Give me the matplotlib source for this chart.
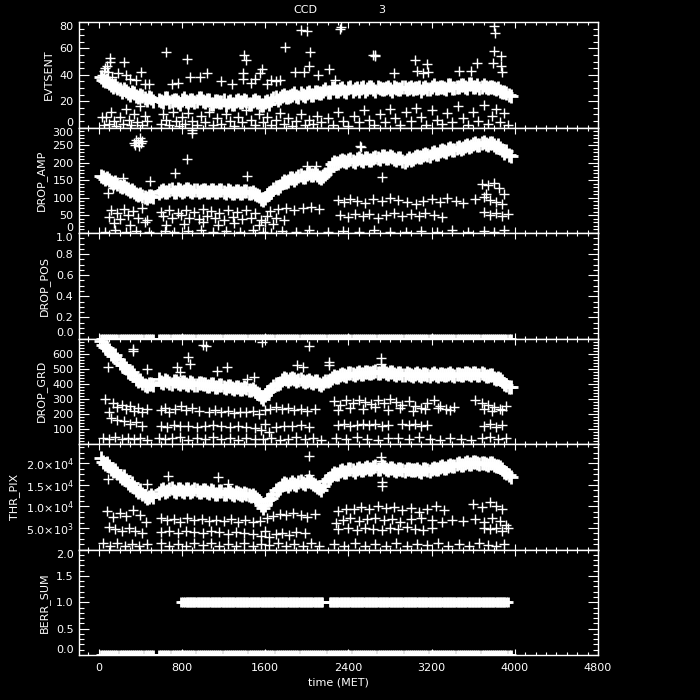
import numpy as np
import matplotlib
matplotlib.use('Agg')
import matplotlib.pyplot as plt
from matplotlib.ticker import MultipleLocator

# main read-out stream: time stamps (gap between ~500 and ~580), two interleaved reads
t_a = np.arange(20, 501, 40)
t_b = np.arange(580, 3941, 40)
t_main = np.concatenate([t_a, t_b])
t_main2 = t_main + 20

evt_main = [38, 35, 34, 31, 30, 27, 28, 25, 26, 23, 24, 21, 22,
            21, 19, 22, 20, 21, 18, 22, 19, 21, 20, 22,
            19, 21, 18, 20, 19, 17, 20, 18, 21, 19, 20, 18, 21, 19,
            17, 20, 21, 23, 22, 25, 23, 25, 24, 26, 24, 27, 25, 27, 26,
            29, 27, 30, 28, 30, 27, 31, 29, 28, 31, 29,
            31, 28, 30, 29, 31, 28, 30, 29, 31, 30, 29,
            30, 28, 31, 29, 32, 30, 31, 29, 32, 30, 31,
            32, 30, 33, 31, 30, 32, 30, 31, 29, 28, 27, 25]
evt_main2 = [36, 36, 32, 32, 29, 29, 26, 27, 24, 25, 22, 23, 20,
             20, 22, 19, 21, 19, 21, 20, 21, 19, 22, 20,
             21, 18, 20, 19, 21, 19, 18, 20, 19, 21, 18, 20, 19, 17,
             19, 18, 22, 21, 24, 23, 24, 26, 23, 25, 26, 25, 27, 26, 28,
             27, 30, 28, 29, 28, 30, 28, 30, 30, 28, 31,
             29, 31, 29, 30, 29, 31, 29, 31, 29, 31, 30,
             31, 30, 29, 31, 30, 31, 30, 32, 30, 31, 32,
             31, 33, 31, 32, 31, 31, 31, 30, 30, 27, 26, 24]

amp_main = [162, 154, 150, 142, 140, 131, 128, 119, 116, 108, 106, 100, 106,
            114, 122, 117, 124, 118, 123, 119, 125, 118, 122, 120,
            123, 116, 122, 117, 121, 115, 120, 114, 120, 115, 119, 113, 112, 104,
            94, 108, 118, 130, 133, 147, 148, 157, 155, 164, 160, 170, 165, 166, 157,
            168, 182, 203, 200, 208, 201, 210, 203, 213, 206, 214,
            208, 217, 210, 219, 212, 216, 207, 212, 203, 212, 210,
            220, 215, 226, 219, 230, 226, 236, 230, 241, 236, 244,
            241, 250, 246, 255, 251, 258, 250, 255, 245, 242, 228, 222]
amp_main2 = [158, 156, 146, 145, 135, 134, 124, 122, 112, 112, 102, 104, 103,
             120, 116, 123, 118, 124, 117, 124, 119, 123, 117, 123,
             118, 122, 116, 122, 116, 121, 115, 120, 114, 120, 114, 116, 108, 98,
             100, 114, 124, 128, 142, 144, 155, 152, 162, 158, 168, 166, 170, 160, 162,
             176, 195, 198, 206, 204, 209, 206, 211, 209, 213, 209,
             214, 212, 218, 214, 218, 210, 213, 205, 208, 207, 216,
             217, 223, 221, 227, 225, 233, 232, 239, 235, 242, 240,
             247, 244, 252, 249, 256, 254, 256, 250, 250, 236, 232, 218]

grd_main = [685, 645, 625, 585, 565, 525, 505, 470, 455, 420, 405, 385, 400,
            428, 405, 420, 400, 415, 398, 412, 392, 408, 390, 402,
            398, 382, 395, 378, 390, 372, 383, 366, 378, 362, 372, 355, 352, 330,
            300, 345, 362, 400, 408, 435, 420, 438, 418, 430, 410, 425, 405, 415, 390,
            418, 425, 452, 445, 465, 452, 470, 458, 475, 462, 478,
            470, 485, 468, 482, 465, 476, 460, 472, 455, 466, 452,
            468, 450, 465, 452, 468, 450, 466, 455, 468, 452, 466,
            458, 472, 460, 470, 455, 465, 448, 455, 432, 430, 400, 380]
grd_main2 = [660, 640, 600, 590, 540, 525, 480, 475, 430, 425, 390, 395, 392,
             410, 425, 402, 418, 402, 414, 396, 410, 394, 405, 395,
             388, 398, 380, 392, 375, 388, 370, 380, 364, 375, 360, 362, 340, 315,
             325, 350, 385, 395, 425, 428, 430, 432, 425, 418, 420, 410, 418, 400, 405,
             420, 440, 445, 460, 455, 468, 462, 472, 466, 476, 470,
             480, 474, 484, 470, 478, 464, 474, 458, 468, 455, 462,
             455, 462, 455, 465, 455, 462, 455, 466, 455, 464, 460,
             468, 462, 472, 458, 468, 452, 460, 440, 440, 415, 392, 375]

thr_main = [21200, 19800, 19400, 18200, 17800, 16500, 16200, 14900, 14600, 13300, 13000, 12000, 12600,
            13200, 14100, 13500, 14200, 13400, 14000, 13300, 14100, 13500, 13900, 13400,
            13800, 13100, 13700, 12900, 13500, 12800, 13400, 12700, 13100, 12600, 13000, 12400, 12200, 11300,
            9600, 11400, 12000, 13800, 14200, 15500, 14800, 15700, 15000, 15900, 15200, 16000, 15300, 14600, 13900,
            15800, 16600, 17800, 17500, 18500, 17900, 18800, 18100, 19000, 18400, 19100,
            18700, 19300, 18600, 19200, 18400, 18900, 18300, 18800, 18200, 18700, 18400,
            18700, 18100, 18800, 18200, 18900, 18600, 19300, 18900, 19700, 19400, 20000,
            19600, 20300, 19800, 20400, 19800, 20200, 19700, 20100, 19300, 19200, 18000, 17300]
thr_main2 = [20400, 20200, 18700, 18500, 17000, 17000, 15500, 15400, 13900, 13800, 12400, 12300, 12100,
             13800, 13400, 14000, 13600, 14100, 13500, 14000, 13400, 14000, 13300, 13800,
             13300, 13900, 13000, 13700, 12900, 13500, 12800, 13300, 12900, 13200, 12600, 12700, 11800, 10400,
             10300, 11800, 13000, 13900, 15000, 15200, 15300, 15300, 15600, 15500, 15800, 15600, 15000, 14200, 14800,
             16300, 17200, 17600, 18200, 18100, 18600, 18400, 18800, 18500, 19000, 18800,
             19100, 18800, 19300, 18700, 18900, 18500, 18800, 18400, 18800, 18400, 18500,
             18300, 18600, 18400, 18700, 18700, 19100, 19000, 19500, 19500, 19900, 19700,
             20100, 19900, 20300, 20000, 20100, 19900, 20000, 19700, 19500, 18600, 17800, 16800]

# flag columns
t_flag = np.concatenate([t_main, t_main2])
pos_zero = [0.0] * len(t_flag)
berr_zero = [0.0] * len(t_flag)
berr_one_t = np.concatenate([[790, 810], np.arange(830, 2161, 15), np.arange(2220, 3941, 15)])
berr_one = [1.0] * len(berr_one_t)

# secondary streams and outliers, (time, value)
evt_extra = [(1940, 74), (2000, 73), (2320, 75), (2330, 76), (3800, 77), (3805, 72), (650, 57), (845, 52),
             (1795, 61), (2035, 57), (1400, 55), (1420, 51), (245, 50), (105, 53), (2640, 55), (2655, 54),
             (3800, 58), (3865, 54), (3045, 51), (3160, 48), (3640, 49), (3795, 49), (3870, 47), (3880, 42),
             (1570, 44), (1555, 41), (1385, 41), (1385, 37), (2020, 47), (1970, 42), (1890, 42), (2105, 40),
             (2210, 44), (1040, 41), (410, 42), (3465, 43), (3580, 43), (3060, 43), (3120, 41), (3170, 42),
             (80, 47), (60, 45), (110, 50), (880, 38), (975, 38), (1745, 36), (1655, 36), (1505, 37),
             (2275, 36), (2840, 41), (185, 41), (265, 40), (2660, 55), (30, 40), (50, 43), (90, 42),
             (130, 38), (300, 37), (360, 36), (440, 33), (480, 33), (700, 33), (760, 34), (1180, 35),
             (1280, 33), (1460, 34), (1620, 33), (1700, 35),
             (30, 8), (50, 2), (70, 8), (100, 3), (120, 12), (150, 5), (170, 1), (200, 8), (230, 3),
             (260, 14), (290, 6), (310, 2), (340, 10), (370, 4), (400, 16), (420, 2), (440, 9), (460, 5),
             (600, 3), (620, 10), (650, 6), (680, 2), (710, 12), (740, 5), (770, 1), (800, 8), (830, 3),
             (860, 11), (900, 5), (940, 2), (980, 9), (1020, 4), (1060, 12), (1100, 2), (1140, 7),
             (1180, 3), (1220, 10), (1260, 5), (1300, 1), (1340, 8), (1380, 4), (1420, 13), (1460, 6),
             (1500, 2), (1540, 10), (1580, 4), (1620, 8), (1660, 2), (1700, 6), (1740, 11), (1780, 3),
             (1820, 7), (1860, 1), (1900, 5), (1940, 10), (1980, 2), (2020, 6), (2060, 3), (2100, 9),
             (2140, 4), (2200, 7), (2250, 2), (2300, 12), (2350, 5), (2400, 1), (2450, 9), (2500, 4),
             (2550, 13), (2600, 6), (2650, 2), (2700, 10), (2750, 4), (2800, 14), (2850, 7), (2900, 2),
             (2950, 12), (3000, 5), (3050, 15), (3100, 8), (3150, 2), (3200, 13), (3250, 6), (3300, 3),
             (3350, 11), (3400, 4), (3450, 16), (3500, 7), (3550, 2), (3600, 12), (3650, 5), (3700, 17),
             (3740, 3), (3780, 9), (3820, 14), (3860, 4), (3900, 11), (3930, 2)]

amp_extra = [(340, 255), (360, 265), (380, 258), (400, 270), (420, 262), (350, 250), (390, 248), (410, 255),
             (893, 292), (893, 283), (848, 210), (733, 172), (2516, 248), (2526, 244), (1424, 161),
             (2006, 190), (2087, 190), (2726, 158), (235, 156), (494, 147), (90, 113), (140, 128),
             (120, 66), (180, 58), (240, 68), (330, 62), (420, 70), (600, 60), (680, 66), (760, 58),
             (840, 64), (920, 60), (1000, 68), (1080, 62), (1160, 57), (1240, 65), (1330, 60), (1420, 66),
             (1500, 58), (1650, 63), (1720, 68), (1800, 72), (1880, 66), (1960, 70), (2040, 74), (2120, 68),
             (100, 45), (200, 40), (280, 50), (380, 44), (460, 38), (620, 48), (700, 42), (790, 50),
             (870, 44), (960, 40), (1040, 47), (1120, 42), (1200, 38), (1290, 46), (1380, 41), (1460, 44),
             (1560, 36), (1620, 48), (1700, 42), (1780, 38),
             (150, 28), (300, 24), (440, 30), (650, 22), (820, 26), (1000, 30), (1150, 24), (1300, 28),
             (1540, 22), (1600, 30), (1680, 26),
             (60, 4), (160, 8), (260, 2), (360, 6), (480, 3), (640, 7), (720, 2), (860, 5), (980, 9),
             (1100, 3), (1220, 6), (1360, 2), (1480, 8), (1580, 4), (1660, 1), (1760, 6), (1900, 3),
             (2020, 8), (2200, 2), (2350, 7), (2500, 3), (2650, 9), (2800, 4), (2950, 2), (3100, 7),
             (3250, 3), (3400, 8), (3550, 2), (3700, 6), (3800, 4), (3900, 9),
             (2300, 95), (2360, 88), (2420, 98), (2480, 92), (2560, 86), (2640, 97), (2720, 90), (2800, 100),
             (2880, 94), (2960, 88), (3050, 82), (3120, 90), (3200, 96), (3280, 88), (3350, 99), (3430, 92),
             (3500, 86), (3620, 96), (3700, 102), (3760, 94), (3820, 88), (3880, 82),
             (2320, 52), (2400, 46), (2460, 55), (2540, 48), (2600, 53), (2680, 44), (2760, 50), (2840, 56),
             (2920, 47), (3000, 54), (3080, 49), (3140, 58), (3220, 51), (3300, 45), (3700, 60), (3760, 52),
             (3820, 57), (3880, 48), (3930, 55),
             (3680, 140), (3740, 136), (3800, 142), (3850, 128), (3720, 112), (3900, 110)]

grd_extra = [(331, 630), (331, 615), (1006, 660), (1031, 650), (1572, 680), (2018, 650), (862, 578), (878, 530),
             (460, 498), (90, 508), (2212, 545), (2212, 523), (2710, 570), (2710, 530), (1902, 523),
             (1966, 508), (748, 508), (780, 480), (1135, 487), (1232, 508), (1424, 432), (1488, 443),
             (60, 300), (100, 210), (140, 275), (180, 245), (220, 260), (260, 230), (300, 250), (340, 220),
             (380, 240), (420, 215), (460, 230), (600, 225), (640, 240), (680, 215), (730, 235), (790, 250),
             (840, 225), (900, 240), (960, 220), (1060, 215), (1120, 225), (1180, 210), (1240, 220),
             (1300, 205), (1360, 215), (1420, 210), (1480, 220), (1540, 200), (1600, 225), (1650, 235),
             (1700, 245), (1760, 230), (1820, 240), (1880, 225), (1940, 235), (2000, 220), (2080, 230),
             (2260, 285), (2320, 260), (2380, 290), (2440, 275), (2500, 295), (2560, 280), (2620, 265),
             (2680, 290), (2740, 275), (2800, 300), (2860, 280), (2920, 260), (2980, 285), (3040, 250),
             (3100, 240), (3160, 270), (3220, 290), (3280, 255), (3340, 235), (3420, 245), (3620, 290),
             (3680, 275), (3740, 260), (3800, 245), (3860, 235), (3920, 250), (2300, 225), (2420, 240),
             (2540, 230), (2660, 245), (2780, 225), (2900, 238), (3020, 222), (3140, 230), (3260, 242),
             (3380, 228), (3700, 230), (3780, 220), (3880, 225),
             (120, 170), (180, 160), (240, 150), (300, 130), (360, 145), (420, 120), (600, 120), (660, 115),
             (720, 125), (780, 118), (860, 122), (940, 115), (1020, 120), (1100, 125), (1180, 118),
             (1260, 112), (1340, 120), (1420, 115), (1500, 108), (1560, 95), (1600, 130), (1640, 80),
             (1700, 110), (1780, 122), (1860, 118), (1940, 125), (2020, 115), (2300, 125), (2360, 130),
             (2420, 122), (2480, 128), (2540, 135), (2600, 125), (2660, 130), (2720, 122), (2780, 128),
             (2920, 132), (2980, 125), (3040, 130), (3100, 122), (3160, 128), (3700, 120), (3760, 130),
             (3820, 115), (3880, 125),
             (40, 40), (100, 30), (160, 45), (220, 35), (280, 40), (340, 30), (400, 38), (460, 25), (580, 42),
             (640, 30), (700, 38), (780, 45), (860, 28), (940, 40), (1020, 32), (1100, 45), (1180, 30),
             (1260, 38), (1340, 25), (1420, 40), (1500, 35), (1580, 30), (1660, 42), (1740, 28), (1820, 36),
             (1900, 44), (1980, 30), (2060, 38), (2140, 25), (2280, 40), (2380, 30), (2480, 45), (2580, 35),
             (2680, 28), (2780, 42), (2880, 38), (2980, 30), (3080, 45), (3180, 35), (3280, 28), (3380, 40),
             (3480, 32), (3580, 25), (3680, 38), (3760, 44), (3840, 30), (3920, 40)]

thr_extra = [(2018, 21700), (2710, 21400), (2710, 20600), (2266, 17900), (1145, 16900), (670, 17100),
             (1240, 15200), (90, 16400), (460, 15300), (2725, 15700), (2725, 14800), (2018, 17300),
             (80, 9000), (140, 7500), (200, 8500), (260, 7800), (330, 9200), (400, 8000), (450, 6500),
             (600, 7200), (660, 6800), (720, 7000), (780, 6500), (850, 7400), (920, 6900), (990, 7100),
             (1060, 6600), (1130, 6900), (1200, 6700), (1270, 7000), (1340, 6500), (1410, 6800),
             (1480, 6400), (1550, 6700), (1620, 7200), (1680, 7800), (1740, 8200), (1800, 7900),
             (1870, 8400), (1940, 8100), (2000, 7600), (2080, 8300),
             (100, 5200), (160, 4800), (220, 4200), (290, 5000), (350, 4400), (420, 3900), (600, 4000),
             (680, 4300), (760, 3900), (840, 4400), (920, 4100), (1000, 3800), (1080, 4200), (1160, 4000),
             (1240, 3700), (1320, 4100), (1400, 3900), (1480, 3600), (1560, 3200), (1600, 4300),
             (1640, 2900), (1700, 3600), (1760, 3900), (1830, 3400), (1900, 4100), (1980, 3800),
             (40, 1400), (110, 900), (180, 1600), (250, 800), (320, 1300), (390, 700), (460, 1200),
             (600, 1500), (680, 900), (760, 1300), (840, 700), (920, 1400), (1000, 1000), (1080, 1600),
             (1160, 800), (1240, 1200), (1320, 900), (1400, 1500), (1480, 700), (1560, 1300), (1640, 1000),
             (1720, 1600), (1800, 800), (1880, 1200), (1960, 900), (2040, 1400), (2120, 700), (2260, 1300),
             (2360, 900), (2460, 1500), (2560, 800), (2660, 1200), (2760, 900), (2860, 1400), (2960, 700),
             (3060, 1300), (3160, 1000), (3260, 1500), (3360, 800), (3460, 1200), (3560, 900), (3660, 1400),
             (3740, 1100), (3820, 700), (3900, 1300),
             (2300, 9000), (2380, 9500), (2450, 9300), (2520, 9800), (2600, 9400), (2680, 10100),
             (2760, 9600), (2840, 9900), (2920, 9200), (3000, 9700), (3080, 8800), (3160, 9400),
             (3240, 10000), (3320, 9100), (3600, 10500), (3680, 9900), (3760, 11100), (3820, 10200),
             (3880, 9500),
             (2280, 6200), (2350, 6900), (2420, 7200), (2500, 6600), (2580, 7000), (2660, 7400),
             (2740, 6800), (2820, 7100), (2900, 6500), (3000, 7000), (3100, 7300), (3200, 6900),
             (3300, 6400), (3400, 6800), (3500, 6600), (3620, 7000), (3700, 6500), (3780, 7200),
             (3860, 6700), (3920, 5800),
             (2300, 4700), (2400, 4900), (2480, 4500), (2560, 5100), (2640, 4800), (2720, 4600),
             (2800, 5000), (2880, 4700), (2960, 5200), (3040, 4800), (3120, 4500), (3200, 4900),
             (3700, 5000), (3760, 4700), (3820, 5100), (3880, 4400), (3930, 4900)]

# panel setup: name, ylim, major, minor, tick labels
panels = [
    ('EVTSENT', (0, 80), 20, 5, ['0', '20', '40', '60', '80']),
    ('DROP_AMP', (0, 300), 50, 10, ['0', '50', '100', '150', '200', '250', '300']),
    ('DROP_POS', (0, 1.0), 0.2, 0.05, ['0.0', '0.2', '0.4', '0.6', '0.8', '1.0']),
    ('DROP_GRD', (0, 700), 100, 20, ['', '100', '200', '300', '400', '500', '600', '']),
    ('THR_PIX', (0, 24500), 5000, 1250, ['', r'5.0$\times$10$^3$', r'1.0$\times$10$^4$',
                                         r'1.5$\times$10$^4$', r'2.0$\times$10$^4$']),
    ('BERR_SUM', (0, 2.0), 0.5, 0.1, ['0.0', '0.5', '1.0', '1.5', '2.0']),
]

plt.rcParams['font.family'] = 'DejaVu Sans'
plt.rcParams['mathtext.fontset'] = 'dejavusans'

FS = 8

fig = plt.figure(figsize=(7, 7), dpi=100, facecolor='black')

left, width = 79 / 700, 519 / 700
top_px, h_px = 22, 105.5
axes = []
for i in range(6):
    bottom = 1 - (top_px + (i + 1) * h_px) / 700
    ax = fig.add_axes([left, bottom, width, h_px / 700])
    ax.set_facecolor('black')
    axes.append(ax)

mk = dict(ls='none', marker='+', color='white')
band = dict(ms=9.5, mew=2.0, **mk)
flag = dict(ms=6.5, mew=2.0, **mk)

def plot_extra(ax, pairs):
    t = [p[0] for p in pairs]
    v = [p[1] for p in pairs]
    ax.plot(t, v, ms=7, mew=1.0, **mk)

axes[0].plot(t_main, evt_main, **band)
axes[0].plot(t_main2, evt_main2, **band)
plot_extra(axes[0], evt_extra)
axes[1].plot(t_main, amp_main, **band)
axes[1].plot(t_main2, amp_main2, **band)
plot_extra(axes[1], amp_extra)
axes[2].plot(t_flag, pos_zero, **flag)
axes[3].plot(t_main, grd_main, **band)
axes[3].plot(t_main2, grd_main2, **band)
plot_extra(axes[3], grd_extra)
axes[4].plot(t_main, thr_main, **band)
axes[4].plot(t_main2, thr_main2, **band)
plot_extra(axes[4], thr_extra)
axes[5].plot(t_flag, berr_zero, **flag)
axes[5].plot(berr_one_t, berr_one, **flag)

for ax, (name, ylim, major, minor, labels) in zip(axes, panels):
    ax.set_xlim(-190, 4800)
    ax.set_ylim(*ylim)
    ticks = [ylim[0] + k * major for k in range(len(labels))]
    ax.set_yticks(ticks)
    ax.set_yticklabels(labels)
    ax.yaxis.set_minor_locator(MultipleLocator(minor))
    ax.set_xticks(np.arange(0, 4801, 800))
    ax.xaxis.set_minor_locator(MultipleLocator(100))
    for s in ax.spines.values():
        s.set_color('white')
        s.set_linewidth(1.0)
    ax.tick_params(which='both', direction='in', top=True, right=True,
                   colors='white', labelsize=FS, width=0.8)
    ax.tick_params(axis='y', which='major', length=7, pad=4)
    ax.tick_params(axis='y', which='minor', length=3.5)
    ax.tick_params(axis='x', which='major', length=4.5, pad=6)
    ax.tick_params(axis='x', which='minor', length=2.2)
    ax.set_ylabel(name, color='white', fontsize=FS, labelpad=4)
    # keep edge labels inside the panel, like the original
    for tk, val in zip(ax.yaxis.get_major_ticks(), ticks):
        if np.isclose(val, ylim[0]):
            tk.label1.set_va('bottom')
        elif np.isclose(val, ylim[1]):
            tk.label1.set_va('top')
    if ax is not axes[-1]:
        ax.tick_params(axis='x', labelbottom=False)

axes[-1].set_xticklabels(['0', '800', '1600', '2400', '3200', '4000', '4800'])
axes[-1].set_xlabel('time (MET)', color='white', fontsize=FS, labelpad=3)

fig.text(305 / 700, 1 - 10 / 700, 'CCD', color='white', fontsize=FS, ha='center', va='center')
fig.text(382 / 700, 1 - 10 / 700, '3', color='white', fontsize=FS, ha='center', va='center')

fig.savefig('out.png', dpi=100, facecolor='black')
